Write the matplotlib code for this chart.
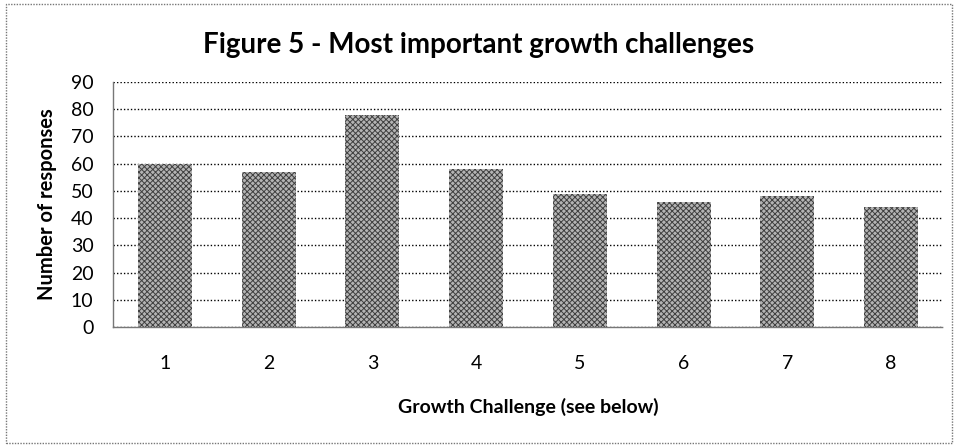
import matplotlib
matplotlib.use("Agg")
import matplotlib.pyplot as plt
from matplotlib.patches import Rectangle

plt.rcParams['font.family'] = ['Lato', 'DejaVu Sans']
plt.rcParams['hatch.linewidth'] = 0.7

categories = ["1", "2", "3", "4", "5", "6", "7", "8"]
responses = [60, 57, 78, 58, 49, 46, 48, 44]
yticks = [0, 10, 20, 30, 40, 50, 60, 70, 80, 90]

fig = plt.figure(figsize=(9.58, 4.46), dpi=100)
ax = fig.add_axes([113 / 958, 1 - 327 / 446, 830 / 958, 245 / 446])

x = list(range(len(categories)))
ax.bar(x, responses, width=0.52, color="#b4b4b4", edgecolor="#404040",
       linewidth=0, hatch="xxxxxx", zorder=3)

ax.set_xlim(-0.5, len(categories) - 0.5)
ax.set_ylim(0, 90)
ax.set_yticks(yticks)
ax.set_xticks(x)
ax.set_xticklabels(categories)
ax.tick_params(axis="both", length=0, labelsize=14, colors="black")
ax.tick_params(axis="x", pad=20)
ax.tick_params(axis="y", pad=14)

ax.yaxis.grid(True, linestyle=(0, (1, 1.5)), color="black", linewidth=1.0, zorder=0)
for s in ["top", "right"]:
    ax.spines[s].set_visible(False)
for s in ["left", "bottom"]:
    ax.spines[s].set_linestyle((0, (1, 1)))
    ax.spines[s].set_color("#777777")
    ax.spines[s].set_linewidth(1.0)

ax.set_xlabel("Growth Challenge (see below)", fontsize=14, fontweight="bold", labelpad=19)
ax.set_ylabel("Number of responses", fontsize=14.5, fontweight="bold", labelpad=10)

fig.text(0.5, 1 - 45 / 446, "Figure 5 - Most important growth challenges",
         ha="center", va="center", fontsize=20, fontweight="bold")

fig.patches.append(Rectangle((6 / 958, 3 / 446), 946 / 958, 439 / 446,
                             transform=fig.transFigure, fill=False,
                             linestyle=(0, (1, 1)), edgecolor="#777777", linewidth=1.0))

fig.savefig("out.png", dpi=100)
